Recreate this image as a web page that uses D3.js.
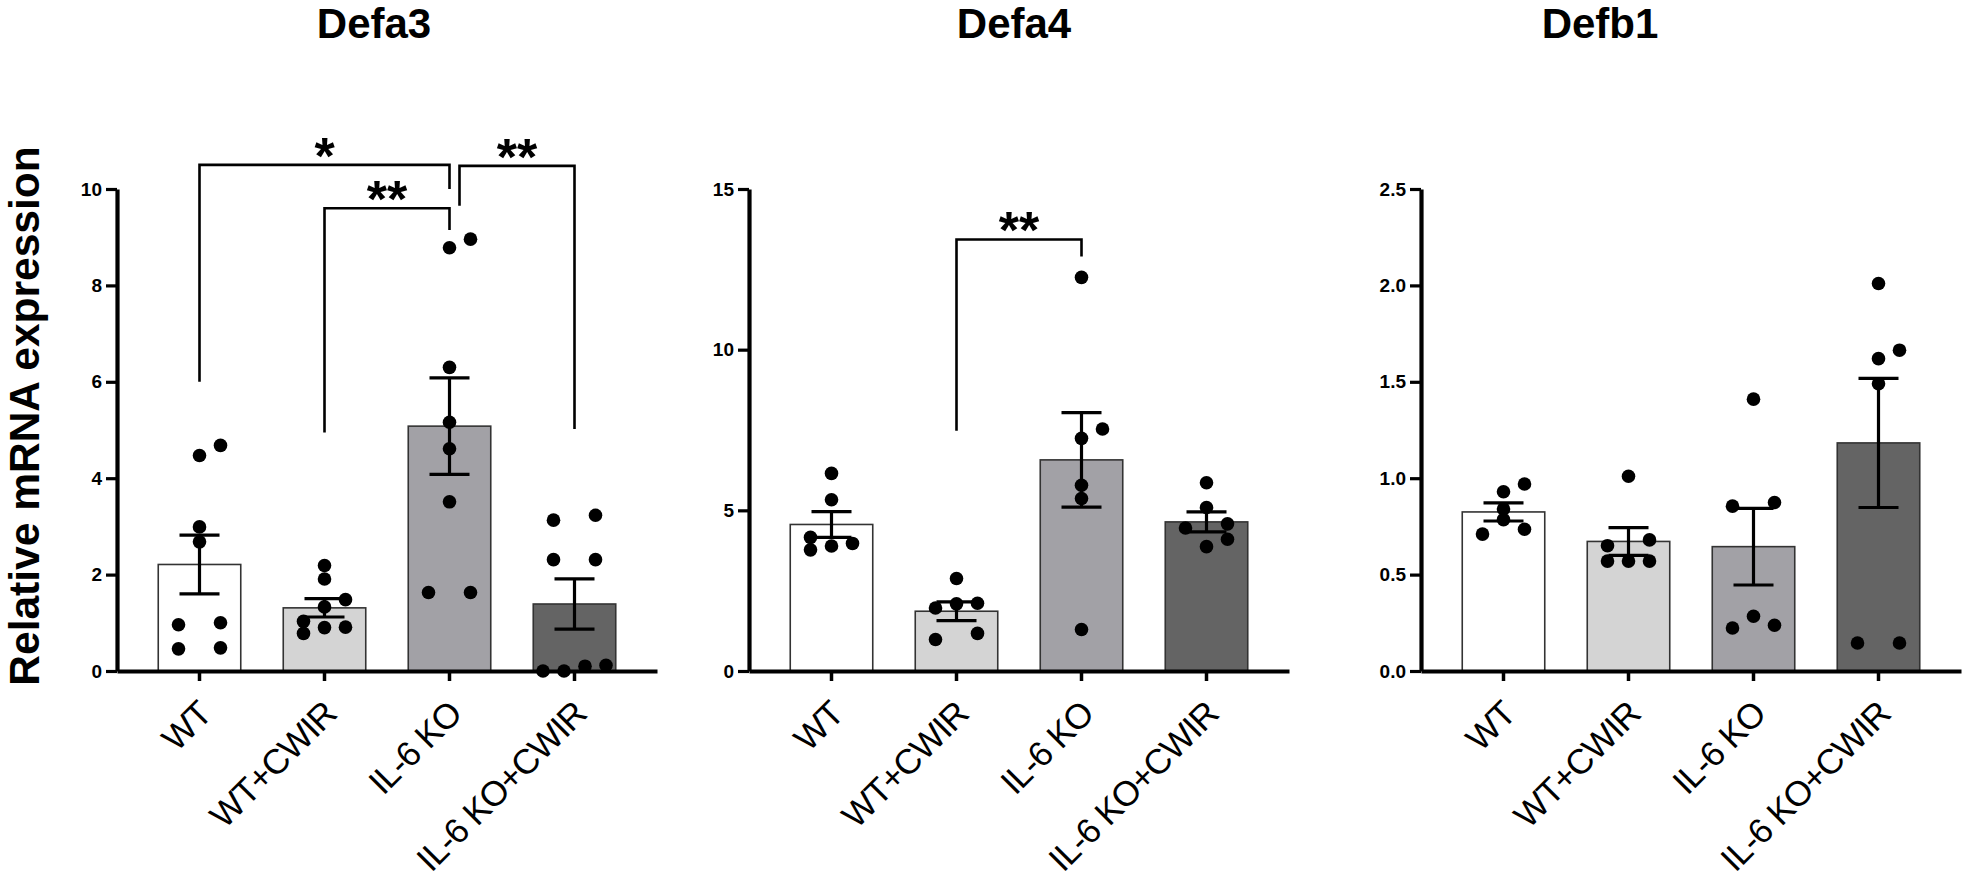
<!DOCTYPE html>
<html><head><meta charset="utf-8">
<script src="https://cdn.jsdelivr.net/npm/d3@7"></script>
<style>body{margin:0;background:#fff}svg{display:block}</style>
</head><body>
<svg id="chart" width="1962" height="879"></svg>
<script>
// ---------- data ----------
const groups = ["WT", "WT+CWIR", "IL-6 KO", "IL-6 KO+CWIR"];
const panelTitles = ["Defa3", "Defa4", "Defb1"];
const yLabel = "Relative mRNA expression";

const defa3Points = [
  [4.68, 4.47, 2.99, 2.68, 1.00, 0.96, 0.46, 0.48],
  [2.19, 1.91, 1.48, 1.33, 1.03, 0.78, 0.91, 0.90],
  [8.78, 8.96, 6.30, 5.16, 4.61, 3.51, 1.63, 1.63],
  [3.13, 3.23, 2.31, 2.31, 0.00, 0.12, 0.00, 0.10]
];
const defa3Mean = [2.21, 1.31, 5.08, 1.39];
const defa3Sem = [0.61, 0.19, 1.00, 0.52];
const defa3Ticks = [0, 2, 4, 6, 8, 10];
// [fromGroup, toGroup, label, barLevel, leftLegEnd, rightLegEnd]
const defa3Sig = [
  [0, 2, "*", 10.5, 6.0, 10.0],
  [1, 2, "**", 9.6, 4.95, 9.15],
  [2, 3, "**", 10.48, 9.65, 5.02]
];

const defa4Points = [
  [6.15, 5.33, 4.16, 3.97, 3.89, 3.77],
  [2.88, 2.09, 2.11, 1.96, 0.98, 1.17],
  [12.25, 7.53, 7.24, 5.78, 5.37, 1.29],
  [5.86, 5.09, 4.58, 4.45, 4.10, 3.87]
];
const defa4Mean = [4.56, 1.86, 6.57, 4.64];
const defa4Sem = [0.40, 0.29, 1.47, 0.31];
const defa4Ticks = [0, 5, 10, 15];
const defa4Sig = [
  [1, 2, "**", 13.43, 7.48, 12.9]
];

const defb1Points = [
  [0.97, 0.93, 0.84, 0.785, 0.735, 0.71],
  [1.01, 0.68, 0.65, 0.57, 0.57, 0.57],
  [1.41, 0.874, 0.855, 0.284, 0.237, 0.223],
  [2.01, 1.664, 1.62, 1.49, 0.145, 0.145]
];
const defb1Mean = [0.825, 0.672, 0.645, 1.183];
const defb1Sem = [0.047, 0.072, 0.199, 0.335];
const defb1Ticks = [0, 0.5, 1.0, 1.5, 2.0, 2.5];
const defb1Sig = [];

// ---------- styling / layout ----------
const barColors = ["#ffffff", "#d4d4d4", "#a2a1a6", "#646464"];
const FONT = "'Liberation Sans', Arial, Helvetica, sans-serif";
const panels = [
  {title: panelTitles[0], pts: defa3Points, mean: defa3Mean, sem: defa3Sem, ticks: defa3Ticks, sig: defa3Sig, fmt: d3.format("d"), x0: 117, titleX: 374},
  {title: panelTitles[1], pts: defa4Points, mean: defa4Mean, sem: defa4Sem, ticks: defa4Ticks, sig: defa4Sig, fmt: d3.format("d"), x0: 749, titleX: 1014},
  {title: panelTitles[2], pts: defb1Points, mean: defb1Mean, sem: defb1Sem, ticks: defb1Ticks, sig: defb1Sig, fmt: d3.format(".1f"), x0: 1421, titleX: 1600}
];
const yTop = 189, yBottom = 671, plotW = 540;

const svg = d3.select("#chart");

svg.append("text")
  .attr("transform", `translate(39,416) rotate(-90)`)
  .attr("text-anchor", "middle")
  .attr("font-family", FONT).attr("font-weight", "bold").attr("font-size", 42.5)
  .text(yLabel);

function swarm(values, y, s, minD, tieD) {
  const pts = values.map(v => ({v, y: y(v)})).sort((a, b) => b.y - a.y); // bottom first
  const placed = [];
  let i = 0;
  while (i < pts.length) {
    let j = i + 1;
    while (j < pts.length && pts[i].y - pts[j].y < tieD) j++;
    const k = j - i;
    if (k === 1) {
      const p = pts[i];
      const cands = [0];
      for (let m = 1; m < 6; m++) cands.push(m * s, -m * s);
      p.dx = 0;
      for (const c of cands) {
        if (placed.every(q => Math.hypot(q.dx - c, q.y - p.y) >= minD)) { p.dx = c; break; }
      }
      placed.push(p);
    } else {
      const offs = k === 2 ? [-s, s] : d3.range(k).map(t => (t - (k - 1) / 2) * s);
      for (let t = 0; t < k; t++) { pts[i + t].dx = offs[t]; placed.push(pts[i + t]); }
    }
    i = j;
  }
  return placed;
}

panels.forEach(P => {
  const g = svg.append("g");
  const yMax = d3.max(P.ticks);
  const y = d3.scaleLinear().domain([0, yMax]).range([yBottom, yTop]);
  const x = d3.scaleBand().domain(groups).range([P.x0, P.x0 + plotW])
    .paddingInner(0.34).paddingOuter(0.33);
  const bw = x.bandwidth();
  const cx = i => x(groups[i]) + bw / 2;

  // title
  g.append("text").attr("x", P.titleX).attr("y", 38)
    .attr("text-anchor", "middle")
    .attr("font-family", FONT).attr("font-weight", "bold").attr("font-size", 42)
    .text(P.title);

  // bars
  g.selectAll("rect.bar").data(P.mean).join("rect")
    .attr("x", (d, i) => x(groups[i]))
    .attr("y", d => y(d))
    .attr("width", bw)
    .attr("height", d => y(0) - y(d))
    .attr("fill", (d, i) => barColors[i])
    .attr("stroke", "#333").attr("stroke-width", 1.6);

  // points
  P.pts.forEach((vals, i) => {
    const sw = swarm(vals, y, 21, 10.5, 7);
    g.selectAll(null).data(sw).join("circle")
      .attr("cx", d => cx(i) + d.dx)
      .attr("cy", d => d.y)
      .attr("r", 6.8)
      .attr("fill", "#000");
  });

  // error bars
  P.mean.forEach((m, i) => {
    const lo = m - P.sem[i], hi = m + P.sem[i];
    const eg = g.append("g").attr("stroke", "#000").attr("stroke-width", 3.2);
    eg.append("line").attr("x1", cx(i)).attr("x2", cx(i)).attr("y1", y(lo)).attr("y2", y(hi));
    [lo, hi].forEach(v => eg.append("line")
      .attr("x1", cx(i) - 20).attr("x2", cx(i) + 20).attr("y1", y(v)).attr("y2", y(v)));
  });

  // y axis
  const ya = g.append("g").attr("transform", `translate(${P.x0},0)`)
    .call(d3.axisLeft(y).tickValues(P.ticks).tickFormat(P.fmt).tickSize(11).tickSizeOuter(0).tickPadding(4));
  ya.select(".domain").attr("stroke", "#000").attr("stroke-width", 4.2);
  ya.selectAll(".tick line").attr("stroke", "#000").attr("stroke-width", 3.2);
  ya.selectAll(".tick text").attr("font-family", FONT).attr("font-weight", "bold")
    .attr("font-size", 19).attr("fill", "#000");

  // x axis
  const xa = g.append("g").attr("transform", `translate(0,${y(0)})`)
    .call(d3.axisBottom(x).tickSize(10).tickSizeOuter(0));
  xa.select(".domain").attr("stroke", "#000").attr("stroke-width", 4.2);
  xa.selectAll(".tick line").attr("stroke", "#000").attr("stroke-width", 3.5);
  xa.selectAll(".tick text")
    .attr("x", null).attr("y", null).attr("dy", null)
    .attr("transform", "translate(14,45) rotate(-45)")
    .attr("text-anchor", "end")
    .attr("letter-spacing", "-1px")
    .attr("font-family", FONT).attr("font-size", 35).attr("fill", "#000");

  // significance brackets
  P.sig.forEach(([a, b, lab, lvl, le, re], k) => {
    const shared = P.sig.some(([a2, b2], k2) => k2 < k && b2 === a);
    const xl = cx(a) + (shared ? 10 : 0), xr = cx(b);
    const yl = y(lvl);
    g.append("path")
      .attr("d", `M${xl},${y(le)}V${yl}H${xr}V${y(re)}`)
      .attr("fill", "none").attr("stroke", "#000").attr("stroke-width", 2.6);
    g.append("text").attr("x", (xl + xr) / 2).attr("y", yl + 9)
      .attr("text-anchor", "middle")
      .attr("font-family", FONT).attr("font-weight", "bold").attr("font-size", 52)
      .text(lab);
  });
});
</script>
</body></html>
